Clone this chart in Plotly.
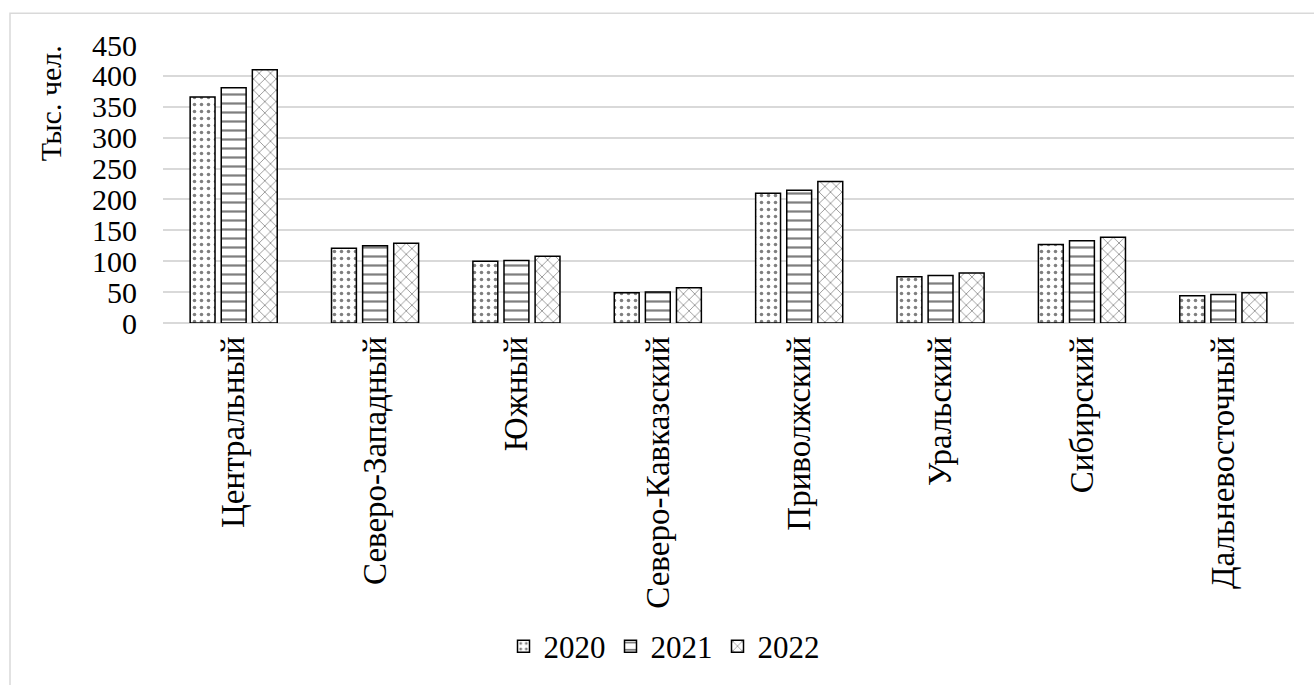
import plotly.graph_objects as go

categories = ["Центральный", "Северо-Западный", "Южный", "Северо-Кавказский",
              "Приволжский", "Уральский", "Сибирский", "Дальневосточный"]
v2020 = [366, 121, 100, 49, 210, 75, 127, 44]
v2021 = [381, 125, 101, 50, 215, 77, 133, 46]
v2022 = [410, 129, 108, 57, 229, 81, 139, 49]
years = ["2020", "2021", "2022"]
y_ticks = [0, 50, 100, 150, 200, 250, 300, 350, 400, 450]

FONT = "Liberation Serif"
BLACK = "black"

patterns = [
    dict(shape=".", size=7, solidity=0.2, fgcolor=BLACK, bgcolor="white", fillmode="overlay"),
    dict(shape="-", size=9, solidity=0.25, fgcolor=BLACK, bgcolor="white", fillmode="overlay"),
    dict(shape="x", size=8, solidity=0.18, fgcolor=BLACK, bgcolor="white", fillmode="overlay"),
]

fig = go.Figure()
for name, vals, pat in zip(years, [v2020, v2021, v2022], patterns):
    fig.add_trace(go.Bar(
        x=categories, y=vals, name=name,
        marker=dict(color="white", pattern=pat, line=dict(color=BLACK, width=1.5)),
    ))

ml, mr, mt, mb = 163, 20, 45, 359
W, H = 1314, 685
pw, ph = W - ml - mr, H - mt - mb

def px_x(p):
    return (p - ml) / pw

def px_y(p):
    return (H - mb - p) / ph

fig.update_layout(
    width=W, height=H,
    margin=dict(l=ml, r=mr, t=mt, b=mb, pad=0),
    paper_bgcolor="white", plot_bgcolor="white",
    barmode="group", bargap=0.34, bargroupgap=0.2,
    showlegend=True,
    legend=dict(orientation="h", x=px_x(664), y=px_y(653), xanchor="center", yanchor="middle",
                font=dict(family=FONT, size=31, color=BLACK), itemwidth=30, tracegroupgap=0,
                bgcolor="rgba(0,0,0,0)"),
    xaxis=dict(tickangle=-90, showgrid=False, showline=False, ticks="", ticklabelstandoff=6,
               tickfont=dict(family=FONT, size=33, color=BLACK)),
    yaxis=dict(range=[0, 450], tickvals=y_ticks, showgrid=True, gridcolor="#d9d9d9", gridwidth=1.5,
               zeroline=True, zerolinecolor="#d9d9d9", zerolinewidth=1.5, showline=False, ticks="",
               tickfont=dict(family=FONT, size=30, color=BLACK), ticklabelstandoff=25),
    annotations=[dict(text="Тыс. чел.", textangle=-90, xref="paper", yref="paper",
                      x=px_x(50), y=px_y(104), xanchor="center", yanchor="middle",
                      showarrow=False, font=dict(family=FONT, size=30, color=BLACK))],
    shapes=[dict(type="rect", xref="paper", yref="paper",
                 x0=px_x(10), x1=px_x(W + 20), y0=px_y(H + 20), y1=px_y(13),
                 line=dict(color="#d9d9d9", width=1.5), fillcolor="rgba(0,0,0,0)", layer="below")],
)

fig.write_html("out.html")
